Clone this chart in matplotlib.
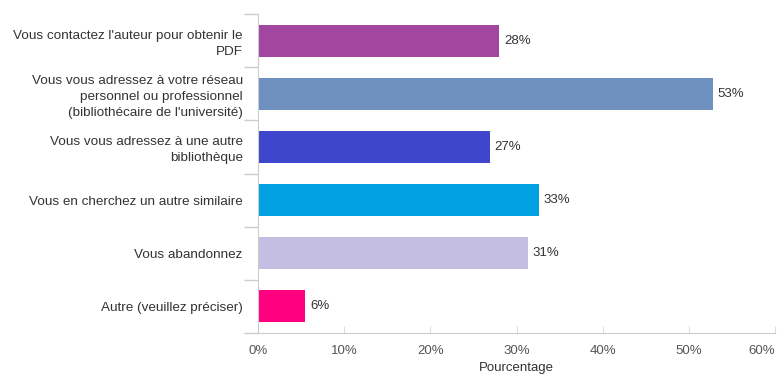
import matplotlib
matplotlib.use("Agg")
import matplotlib.pyplot as plt
import numpy as np

categories = [
    "Vous contactez l'auteur pour obtenir le\nPDF",
    "Vous vous adressez à votre réseau\npersonnel ou professionnel\n(bibliothécaire de l'université)",
    "Vous vous adressez à une autre\nbibliothèque",
    "Vous en cherchez un autre similaire",
    "Vous abandonnez",
    "Autre (veuillez préciser)",
]
values = [28.0, 52.8, 26.9, 32.6, 31.3, 5.5]
value_labels = ["28%", "53%", "27%", "33%", "31%", "6%"]
colors = ["#A2469F", "#6E91BF", "#3E47CB", "#00A1E3", "#C4BEE3", "#FE0080"]
xticks = [0, 10, 20, 30, 40, 50, 60]
xticklabels = ["0%", "10%", "20%", "30%", "40%", "50%", "60%"]

plt.rcParams['font.family'] = ['Liberation Sans', 'DejaVu Sans']

fig = plt.figure(figsize=(7.79, 3.78), dpi=100)
ax = fig.add_axes([258/779, 1-333/378, 517/779, 319/378])

y = np.arange(len(categories))
ax.barh(y, values, height=0.6, color=colors)
ax.set_ylim(len(categories) - 0.5, -0.5)
ax.set_xlim(0, 60)

for yi, v, lab in zip(y, values, value_labels):
    ax.text(v + 0.55, yi, lab, va='center', ha='left', fontsize=9.5, color='#333333')

ax.set_yticks(y)
ax.set_yticklabels(categories, fontsize=9.7, color='#333333')
for t in ax.get_yticklabels():
    t.set_multialignment('right')
    t.set_linespacing(1.45)
ax.tick_params(axis='y', length=0, pad=11)
ax.set_yticks(np.arange(-0.5, len(categories), 1), minor=True)
ax.tick_params(axis='y', which='minor', length=10, color='#cccccc', width=1)

ax.set_xticks(xticks)
ax.set_xticklabels(xticklabels, fontsize=9.5, color='#555555')
ax.get_xticklabels()[-1].set_horizontalalignment('right')
ax.tick_params(axis='x', direction='in', length=5, color='#dddddd', pad=9)
ax.set_xlabel("Pourcentage", fontsize=9.5, color='#333333', labelpad=3)

for s in ['top', 'right']:
    ax.spines[s].set_visible(False)
ax.spines['left'].set_color('#cccccc')
ax.spines['bottom'].set_color('#cccccc')

fig.savefig("out.png", dpi=100)
